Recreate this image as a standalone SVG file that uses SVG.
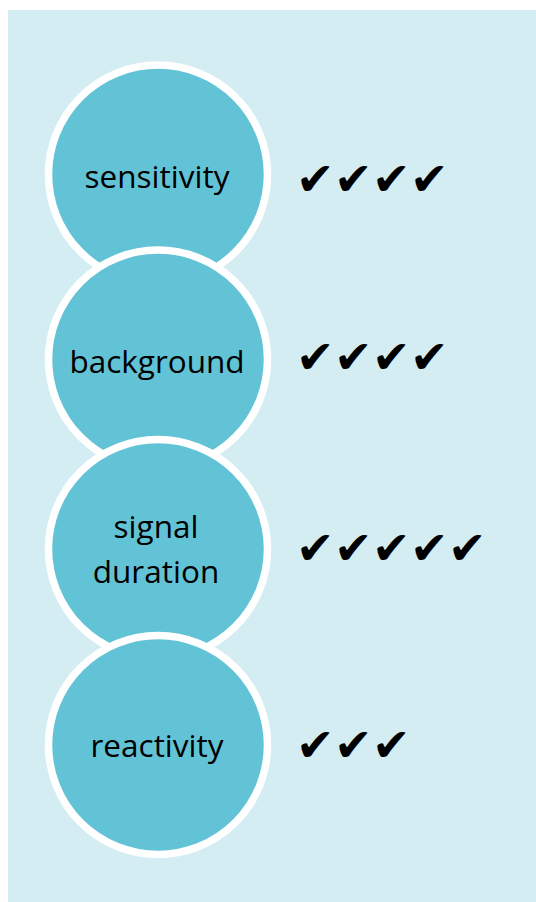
<svg xmlns="http://www.w3.org/2000/svg" width="536" height="902" viewBox="0 0 536 902">
<style>
.c{fill:#63c3d6;stroke:#ffffff;stroke-width:7.5}
.t{font-family:"Open Sans","Noto Sans",sans-serif;font-size:31.5px;fill:#000;text-anchor:middle}
.k{font-family:"DejaVu Sans",sans-serif;font-size:46px;fill:#000}
</style>
<rect x="0" y="0" width="536" height="902" fill="#ffffff"/>
<rect x="8" y="10" width="528" height="892" fill="#d4edf2"/>
<g id="n1"><circle class="c" cx="158" cy="174.5" r="109.5"/><text class="t" x="157" y="188">sensitivity</text></g>
<g id="n2"><circle class="c" cx="158" cy="359.5" r="109.5"/><text class="t" x="157" y="373">background</text></g>
<g id="n3"><circle class="c" cx="158" cy="549" r="109.5"/><text class="t" x="156" y="538">signal</text><text class="t" x="156" y="583">duration</text></g>
<g id="n4"><circle class="c" cx="158" cy="745" r="109.5"/><text class="t" x="157" y="757">reactivity</text></g>
<g id="checks">
<text class="k" x="296 334 372 410" y="195">✔✔✔✔</text>
<text class="k" x="296 334 372 410" y="373">✔✔✔✔</text>
<text class="k" x="296 334 372 410 448" y="564">✔✔✔✔✔</text>
<text class="k" x="296 334 372" y="761">✔✔✔</text>
</g>
</svg>
